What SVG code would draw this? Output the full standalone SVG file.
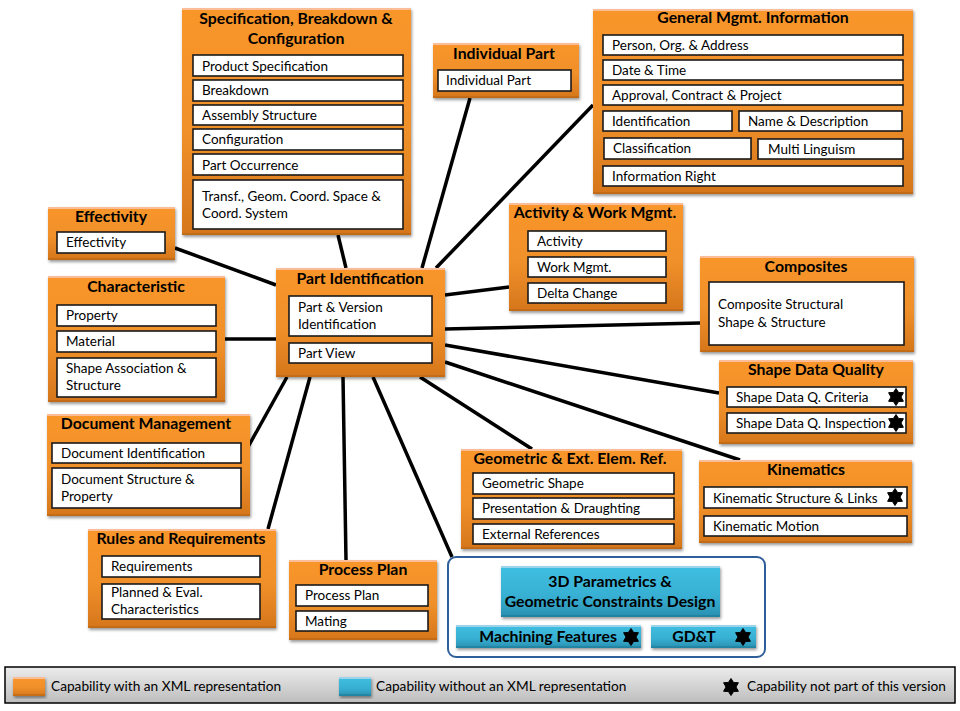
<svg xmlns="http://www.w3.org/2000/svg" xmlns:xlink="http://www.w3.org/1999/xlink" width="960" height="711" viewBox="0 0 960 711">
<style>
text{font-family:Lato,"Liberation Sans",sans-serif;fill:#000}
.t{font-size:15.8px;font-weight:700;text-anchor:middle}
.b{font-size:13.5px}
.l{font-size:13.7px}
.o{fill:url(#og);filter:url(#sh)}
.c{fill:url(#cg);filter:url(#sh)}
.w{fill:#fff;stroke:#1a1a1a;stroke-width:1.6}
.k line{stroke:#000;stroke-width:3.5}
</style>
<defs>
<linearGradient id="og" x1="0" y1="0" x2="0" y2="1"><stop offset="0" stop-color="#f9962c"/><stop offset=".55" stop-color="#f0902a"/><stop offset="1" stop-color="#d5761c"/></linearGradient>
<linearGradient id="cg" x1="0" y1="0" x2="0" y2="1"><stop offset="0" stop-color="#3fbfe2"/><stop offset=".6" stop-color="#37afd2"/><stop offset="1" stop-color="#2a8fb0"/></linearGradient>
<linearGradient id="lg" x1="0" y1="0" x2="0" y2="1"><stop offset="0" stop-color="#ececec"/><stop offset="1" stop-color="#bdbdbd"/></linearGradient>
<filter id="sh" x="-10%" y="-10%" width="120%" height="125%">
<feOffset in="SourceAlpha" dy="2" result="d"/>
<feFlood flood-color="#fff" flood-opacity=".3"/><feComposite in2="SourceAlpha" operator="in"/><feComposite in2="d" operator="out" result="top"/>
<feOffset in="SourceAlpha" dy="-2" result="u"/>
<feFlood flood-color="#000" flood-opacity=".18"/><feComposite in2="SourceAlpha" operator="in"/><feComposite in2="u" operator="out" result="bot"/>
<feDropShadow in="SourceGraphic" dx="1" dy="2" stdDeviation="1.5" flood-color="#000" flood-opacity=".4" result="base"/>
<feMerge><feMergeNode in="base"/><feMergeNode in="top"/><feMergeNode in="bot"/></feMerge>
</filter>
<polygon id="s" points="0,-8.5 2.6,-4.5 7.4,-4.3 5,0 7.4,4.3 2.6,4.5 0,8.5 -2.6,4.5 -7.4,4.3 -5,0 -7.4,-4.3 -2.6,-4.5" fill="#000" stroke="#000" stroke-width="1" stroke-linejoin="round"/>
</defs>
<g id="connectors" class="k">
<line x1="338" y1="235" x2="346" y2="268"/>
<line x1="470" y1="98" x2="422" y2="268"/>
<line x1="593" y1="105" x2="436" y2="268"/>
<line x1="175" y1="248" x2="276" y2="285"/>
<line x1="225" y1="339" x2="276" y2="339"/>
<line x1="248" y1="447" x2="287" y2="377"/>
<line x1="268" y1="529" x2="310" y2="377"/>
<line x1="346" y1="560" x2="343" y2="377"/>
<line x1="452" y1="557" x2="373" y2="377"/>
<line x1="532" y1="449" x2="420" y2="377"/>
<line x1="740" y1="460" x2="445" y2="362"/>
<line x1="719" y1="393" x2="445" y2="345"/>
<line x1="700" y1="323" x2="445" y2="329"/>
<line x1="509" y1="287" x2="445" y2="295"/>
</g>
<g id="spec">
<rect class="o" x="182" y="8" width="229" height="227"/>
<text class="t" x="296" y="24">Specification, Breakdown &amp;</text><text class="t" x="296" y="44">Configuration</text>
<rect class="w" x="193" y="55" width="210" height="21"/><text class="b" x="202" y="71">Product Specification</text>
<rect class="w" x="193" y="80" width="210" height="21"/><text class="b" x="202" y="95">Breakdown</text>
<rect class="w" x="193" y="105" width="210" height="20"/><text class="b" x="202" y="120">Assembly Structure</text>
<rect class="w" x="193" y="129" width="210" height="21"/><text class="b" x="202" y="144">Configuration</text>
<rect class="w" x="193" y="154" width="210" height="21"/><text class="b" x="202" y="170">Part Occurrence</text>
<rect class="w" x="193" y="180" width="210" height="49"/><text class="b" x="202" y="201">Transf., Geom. Coord. Space &amp;</text><text class="b" x="202" y="218">Coord. System</text>
</g>
<g id="individual">
<rect class="o" x="433" y="43" width="146" height="55"/>
<text class="t" x="504" y="59">Individual Part</text>
<rect class="w" x="438" y="70" width="133" height="21"/><text class="b" x="446" y="85">Individual Part</text>
</g>
<g id="general">
<rect class="o" x="593" y="9" width="320" height="185"/>
<text class="t" x="753" y="23">General Mgmt. Information</text>
<rect class="w" x="603" y="35" width="300" height="20"/><text class="b" x="612" y="50">Person, Org. &amp; Address</text>
<rect class="w" x="603" y="60" width="300" height="20"/><text class="b" x="612" y="75">Date &amp; Time</text>
<rect class="w" x="603" y="85" width="300" height="20"/><text class="b" x="612" y="100">Approval, Contract &amp; Project</text>
<rect class="w" x="603" y="111" width="129" height="20"/><text class="b" x="612" y="126">Identification</text>
<rect class="w" x="739" y="111" width="163" height="20"/><text class="b" x="748" y="126">Name &amp; Description</text>
<rect class="w" x="604" y="138" width="147" height="21"/><text class="b" x="613" y="153">Classification</text>
<rect class="w" x="758" y="139" width="145" height="20"/><text class="b" x="768" y="154">Multi Linguism</text>
<rect class="w" x="603" y="166" width="300" height="20"/><text class="b" x="612" y="181">Information Right</text>
</g>
<g id="effectivity">
<rect class="o" x="48" y="207" width="127" height="53"/>
<text class="t" x="111" y="222">Effectivity</text>
<rect class="w" x="57" y="232" width="108" height="21"/><text class="b" x="66" y="247">Effectivity</text>
</g>
<g id="characteristic">
<rect class="o" x="48" y="276" width="177" height="126"/>
<text class="t" x="136" y="292">Characteristic</text>
<rect class="w" x="57" y="305" width="159" height="21"/><text class="b" x="66" y="320">Property</text>
<rect class="w" x="57" y="331" width="159" height="21"/><text class="b" x="66" y="346">Material</text>
<rect class="w" x="57" y="358" width="159" height="39"/><text class="b" x="66" y="373">Shape Association &amp;</text><text class="b" x="66" y="390">Structure</text>
</g>
<g id="part-identification">
<rect class="o" x="276" y="268" width="169" height="109"/>
<text class="t" x="360" y="284">Part Identification</text>
<rect class="w" x="289" y="296" width="143" height="40"/><text class="b" x="298" y="312">Part &amp; Version</text><text class="b" x="298" y="329">Identification</text>
<rect class="w" x="289" y="343" width="143" height="20"/><text class="b" x="298" y="358">Part View</text>
</g>
<g id="activity">
<rect class="o" x="509" y="203" width="174" height="108"/>
<text class="t" x="595" y="218">Activity &amp; Work Mgmt.</text>
<rect class="w" x="528" y="231" width="138" height="20"/><text class="b" x="537" y="246">Activity</text>
<rect class="w" x="528" y="257" width="138" height="20"/><text class="b" x="537" y="272">Work Mgmt.</text>
<rect class="w" x="528" y="283" width="138" height="20"/><text class="b" x="537" y="298">Delta Change</text>
</g>
<g id="composites">
<rect class="o" x="700" y="256" width="214" height="96"/>
<text class="t" x="806" y="272">Composites</text>
<rect class="w" x="709" y="282" width="195" height="63"/><text class="b" x="718" y="309">Composite Structural</text><text class="b" x="718" y="327">Shape &amp; Structure</text>
</g>
<g id="shape-data-quality">
<rect class="o" x="719" y="360" width="194" height="84"/>
<text class="t" x="816" y="375">Shape Data Quality</text>
<rect class="w" x="727" y="387" width="179" height="20"/><text class="b" x="736" y="402">Shape Data Q. Criteria</text><use xlink:href="#s" href="#s" x="896" y="397"/>
<rect class="w" x="727" y="413" width="179" height="20"/><text class="b" x="736" y="428">Shape Data Q. Inspection</text><use xlink:href="#s" href="#s" x="896" y="423"/>
</g>
<g id="kinematics">
<rect class="o" x="699" y="460" width="213" height="83"/>
<text class="t" x="806" y="475">Kinematics</text>
<rect class="w" x="704" y="487" width="203" height="21"/><text class="b" x="713" y="503">Kinematic Structure &amp; Links</text><use xlink:href="#s" href="#s" x="895" y="497"/>
<rect class="w" x="704" y="516" width="203" height="20"/><text class="b" x="713" y="531">Kinematic Motion</text>
</g>
<g id="geometric">
<rect class="o" x="461" y="449" width="221" height="100"/>
<text class="t" x="570" y="464">Geometric &amp; Ext. Elem. Ref.</text>
<rect class="w" x="473" y="473" width="201" height="21"/><text class="b" x="482" y="488">Geometric Shape</text>
<rect class="w" x="473" y="498" width="201" height="21"/><text class="b" x="482" y="513">Presentation &amp; Draughting</text>
<rect class="w" x="473" y="524" width="201" height="20"/><text class="b" x="482" y="539">External References</text>
</g>
<g id="document-management">
<rect class="o" x="47" y="414" width="203" height="102"/>
<text class="t" x="146" y="429">Document Management</text>
<rect class="w" x="52" y="443" width="189" height="20"/><text class="b" x="61" y="458">Document Identification</text>
<rect class="w" x="52" y="468" width="189" height="40"/><text class="b" x="61" y="484">Document Structure &amp;</text><text class="b" x="61" y="501">Property</text>
</g>
<g id="rules">
<rect class="o" x="88" y="529" width="188" height="99"/>
<text class="t" x="181" y="544">Rules and Requirements</text>
<rect class="w" x="102" y="556" width="158" height="21"/><text class="b" x="111" y="571">Requirements</text>
<rect class="w" x="102" y="584" width="158" height="35"/><text class="b" x="111" y="597">Planned &amp; Eval.</text><text class="b" x="111" y="614">Characteristics</text>
</g>
<g id="process-plan">
<rect class="o" x="289" y="560" width="148" height="80"/>
<text class="t" x="363" y="575">Process Plan</text>
<rect class="w" x="296" y="585" width="132" height="21"/><text class="b" x="305" y="600">Process Plan</text>
<rect class="w" x="296" y="611" width="132" height="20"/><text class="b" x="305" y="626">Mating</text>
</g>
<g id="no-xml-group">
<rect x="448" y="557" width="317" height="100" rx="8" fill="#fff" stroke="#2f5f9a" stroke-width="2"/>
</g>
<g id="parametrics">
<rect class="c" x="501" y="566" width="219" height="51"/>
<text class="t" x="610" y="587">3D Parametrics &amp;</text><text class="t" x="610" y="607">Geometric Constraints Design</text>
</g>
<g id="machining">
<rect class="c" x="456" y="625" width="185" height="23"/>
<text class="t" x="548" y="642">Machining Features</text><use xlink:href="#s" href="#s" x="631" y="637"/>
</g>
<g id="gdt">
<rect class="c" x="651" y="625" width="105" height="23"/>
<text class="t" x="694" y="642">GD&amp;T</text><use xlink:href="#s" href="#s" x="743" y="637"/>
</g>
<g id="legend">
<rect x="5" y="667" width="950" height="36" fill="url(#lg)" stroke="#000" stroke-width="1.5"/>
<rect class="o" x="13" y="677" width="32" height="19"/><text class="l" x="51" y="691">Capability with an XML representation</text>
<rect class="c" x="339" y="677" width="32" height="19"/><text class="l" x="376" y="691">Capability without an XML representation</text>
<use xlink:href="#s" href="#s" x="731" y="687"/><text class="l" x="747" y="691">Capability not part of this version</text>
</g>
</svg>
